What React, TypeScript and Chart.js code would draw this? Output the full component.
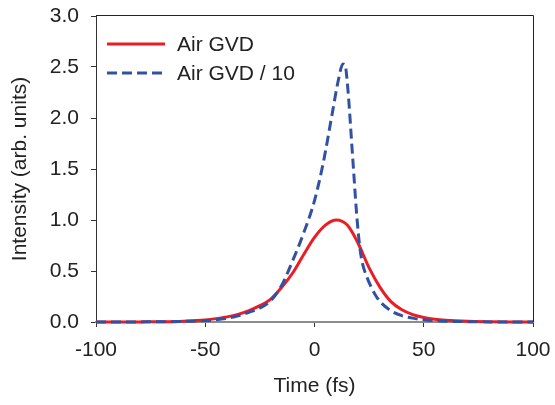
import React, { useEffect, useRef } from "react";
import { Chart, registerables } from "chart.js";

Chart.register(...registerables);

const seriesLabels = ["Air GVD", "Air GVD / 10"];

const redTimes = [-100, -90, -80, -70, -60, -55, -50, -45, -40, -35, -30, -25, -20, -15, -10, -5, 0, 5, 10, 15, 20, 25, 30, 35, 40, 45, 50, 55, 60, 70, 80, 90, 100];
const redValues = [0, 0, 0.001, 0.003, 0.008, 0.013, 0.02, 0.033, 0.05, 0.075, 0.112, 0.16, 0.225, 0.34, 0.48, 0.66, 0.83, 0.95, 1.0, 0.95, 0.77, 0.53, 0.34, 0.2, 0.12, 0.073, 0.045, 0.027, 0.017, 0.007, 0.003, 0.001, 0];

const blueTimes = [-100, -80, -60, -50, -45, -40, -35, -30, -25, -20, -15, -10, -5, 0, 4, 8, 11, 13, 14, 15, 16, 17, 18, 19, 20, 21, 22, 24, 26, 28, 30, 35, 40, 45, 50, 60, 70, 80, 100];
const blueValues = [0, 0.001, 0.006, 0.014, 0.022, 0.036, 0.06, 0.095, 0.137, 0.21, 0.36, 0.6, 0.87, 1.19, 1.56, 2.03, 2.38, 2.53, 2.52, 2.35, 2.08, 1.76, 1.45, 1.14, 0.88, 0.69, 0.57, 0.44, 0.34, 0.26, 0.2, 0.11, 0.062, 0.038, 0.022, 0.008, 0.003, 0.001, 0];

const xTicks = [-100, -50, 0, 50, 100];
const yTicks = [0, 0.5, 1.0, 1.5, 2.0, 2.5, 3.0];

const FONT = "'Liberation Sans', Arial, Helvetica, sans-serif";
const TEXT = "#222";
const RED = "#ed1c24";
const BLUE = "#3152a3";

const frameAndLegend = {
  id: "frameAndLegend",
  afterDatasetsDraw(chart: any) {
    const { ctx, chartArea } = chart;
    ctx.save();
    ctx.strokeStyle = "#222";
    ctx.lineWidth = 1;
    ctx.beginPath();
    ctx.moveTo(chartArea.left, chartArea.top - 0.5);
    ctx.lineTo(chartArea.right + 0.5, chartArea.top - 0.5);
    ctx.lineTo(chartArea.right + 0.5, chartArea.bottom);
    ctx.stroke();

    const items = [0, 1];
    items.forEach((i) => {
      const ds = chart.data.datasets[i];
      const y = 44 + i * 29;
      ctx.beginPath();
      ctx.strokeStyle = ds.borderColor;
      ctx.lineWidth = ds.borderWidth;
      ctx.setLineDash(ds.borderDash || []);
      ctx.moveTo(107, y);
      ctx.lineTo(165, y);
      ctx.stroke();
      ctx.setLineDash([]);
      ctx.fillStyle = TEXT;
      ctx.font = `21px ${FONT}`;
      ctx.textBaseline = "middle";
      ctx.textAlign = "left";
      ctx.fillText(ds.label, 177, y + 1);
    });
    ctx.restore();
  },
};

export default function App() {
  const ref = useRef<HTMLCanvasElement | null>(null);

  useEffect(() => {
    if (!ref.current) return;
    const chart = new Chart(ref.current, {
      type: "line",
      data: {
        datasets: [
          {
            label: seriesLabels[0],
            data: redTimes.map((t, i) => ({ x: t, y: redValues[i] })),
            borderColor: RED,
            borderWidth: 3,
            pointRadius: 0,
            cubicInterpolationMode: "monotone",
            clip: false,
            order: 2,
          },
          {
            label: seriesLabels[1],
            data: blueTimes.map((t, i) => ({ x: t, y: blueValues[i] })),
            borderColor: BLUE,
            borderWidth: 3,
            borderDash: [10, 5],
            pointRadius: 0,
            cubicInterpolationMode: "monotone",
            clip: false,
            order: 1,
          },
        ] as any,
      },
      options: {
        responsive: false,
        animation: false,
        layout: { padding: { top: 16, right: 22, left: 0, bottom: 0 } },
        plugins: { legend: { display: false }, tooltip: { enabled: false } },
        scales: {
          x: {
            type: "linear",
            min: -100,
            max: 100,
            afterFit: (s: any) => {
              s.height = 83;
              s.paddingLeft = 0;
              s.paddingRight = 0;
            },
            afterBuildTicks: (s: any) => {
              s.ticks = xTicks.map((v) => ({ value: v }));
            },
            ticks: {
              font: { family: FONT, size: 21 },
              color: TEXT,
              padding: 11,
              maxRotation: 0,
              callback: (v: any) => String(v),
            },
            grid: {
              drawOnChartArea: false,
              drawTicks: true,
              tickLength: 5,
              tickColor: "#333",
              tickWidth: 1,
            },
            border: { color: "#8c8c8c", width: 2 },
            title: {
              display: true,
              text: "Time (fs)",
              font: { family: FONT, size: 21 },
              color: TEXT,
              padding: { top: 0, bottom: 6 },
            },
          },
          y: {
            min: 0,
            max: 3,
            afterFit: (s: any) => {
              s.width = 96;
              s.paddingTop = 0;
              s.paddingBottom = 0;
            },
            afterBuildTicks: (s: any) => {
              s.ticks = yTicks.map((v) => ({ value: v }));
            },
            ticks: {
              font: { family: FONT, size: 21 },
              color: TEXT,
              padding: 12,
              callback: (v: any) => Number(v).toFixed(1),
            },
            grid: {
              drawOnChartArea: false,
              drawTicks: true,
              tickLength: 5,
              tickColor: "#333",
              tickWidth: 1,
            },
            border: { color: "#333", width: 1 },
            title: {
              display: true,
              text: "Intensity (arb. units)",
              font: { family: FONT, size: 21 },
              color: TEXT,
              padding: { top: 8, bottom: 0 },
            },
          },
        },
      } as any,
      plugins: [frameAndLegend],
    });
    return () => chart.destroy();
  }, []);

  return (
    <div style={{ position: "absolute", left: 0, top: 0, width: 555, height: 405 }}>
      <canvas ref={ref} width={555} height={405} style={{ display: "block" }} />
    </div>
  );
}
